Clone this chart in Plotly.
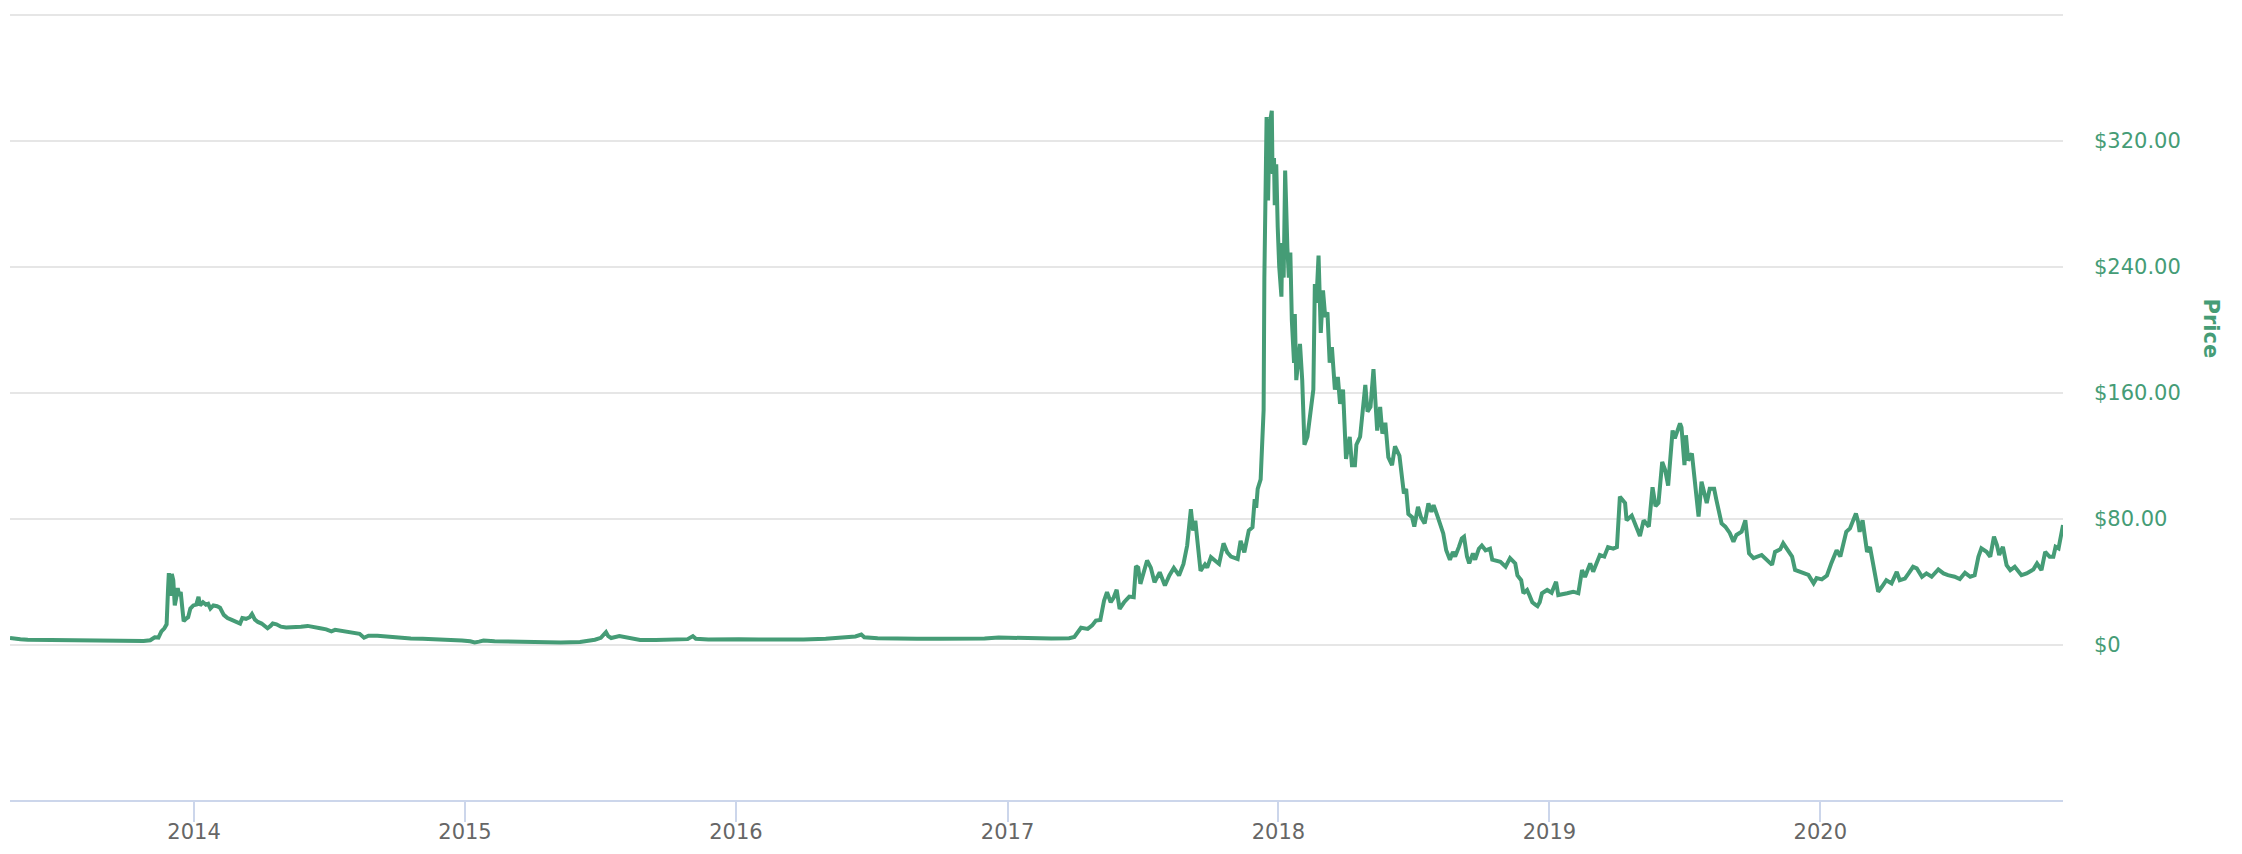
import plotly.graph_objects as go

# Litecoin price (USD)
dates_2013 = ["2013-04-28", "2013-05-05", "2013-05-12", "2013-05-22", "2013-06-05", "2013-06-18",
              "2013-06-25", "2013-07-15", "2013-08-01", "2013-08-20", "2013-09-10", "2013-09-28",
              "2013-10-10", "2013-10-25", "2013-11-03", "2013-11-09", "2013-11-14", "2013-11-18",
              "2013-11-22", "2013-11-25", "2013-11-27", "2013-11-28", "2013-11-30", "2013-12-02",
              "2013-12-04", "2013-12-06", "2013-12-08", "2013-12-10", "2013-12-12", "2013-12-14",
              "2013-12-16", "2013-12-18", "2013-12-21", "2013-12-24", "2013-12-27", "2013-12-31"]
prices_2013 = [4.3, 3.6, 3.5, 3.2, 3.1, 3.0, 2.9, 2.9, 3.0, 2.9, 2.8, 2.7,
               2.6, 2.4, 2.9, 4.8, 4.6, 8.5, 10.5, 13.0, 36.0, 45.5, 31.0, 45.0,
               41.0, 25.0, 30.0, 36.0, 31.0, 33.5, 24.0, 15.0, 16.5, 17.5, 23.0, 25.0]

dates_2014 = ["2014-01-04", "2014-01-07", "2014-01-09", "2014-01-13", "2014-01-17", "2014-01-20",
              "2014-01-23", "2014-01-27", "2014-02-01", "2014-02-05", "2014-02-10", "2014-02-15",
              "2014-02-20", "2014-02-25", "2014-03-01", "2014-03-04", "2014-03-07", "2014-03-12",
              "2014-03-17", "2014-03-20", "2014-03-24", "2014-03-28", "2014-04-02", "2014-04-07",
              "2014-04-10", "2014-04-14", "2014-04-17", "2014-04-22", "2014-04-28", "2014-05-05",
              "2014-05-15", "2014-05-25", "2014-06-03", "2014-06-12", "2014-06-20", "2014-06-28",
              "2014-07-05", "2014-07-10", "2014-07-18", "2014-07-27", "2014-08-05", "2014-08-12",
              "2014-08-18", "2014-08-24", "2014-09-05", "2014-09-18", "2014-10-01", "2014-10-20",
              "2014-11-05", "2014-11-25", "2014-12-10", "2014-12-28"]
prices_2014 = [25.5, 30.5, 25.0, 27.0, 25.5, 26.0, 23.0, 25.0, 24.5, 23.5, 19.0, 17.0,
               16.0, 15.0, 14.5, 13.5, 17.0, 16.5, 17.5, 19.5, 16.0, 14.5, 13.5, 11.5,
               10.5, 12.0, 13.5, 13.0, 11.5, 11.0, 11.0, 11.5, 12.0, 11.5, 10.5, 9.8,
               8.5, 9.5, 9.0, 8.0, 8.0, 7.0, 4.5, 5.8, 5.8, 5.2, 4.5, 4.0,
               3.8, 3.6, 3.2, 2.8]

dates_2015 = ["2015-01-08", "2015-01-14", "2015-01-20", "2015-01-26", "2015-02-10", "2015-02-25",
              "2015-03-12", "2015-04-15", "2015-05-10", "2015-06-05", "2015-06-15", "2015-06-25",
              "2015-07-03", "2015-07-08", "2015-07-10", "2015-07-13", "2015-07-17", "2015-07-28",
              "2015-08-10", "2015-08-25", "2015-09-15", "2015-10-10", "2015-10-28", "2015-11-04",
              "2015-11-08", "2015-11-25", "2015-12-15"]
prices_2015 = [2.2, 1.5, 2.0, 2.7, 2.3, 2.2, 2.0, 1.5, 1.5, 1.8, 2.3, 3.2,
               4.4, 6.5, 8.0, 5.5, 4.3, 5.5, 4.5, 3.0, 3.0, 3.1, 3.6, 5.5,
               3.8, 3.4, 3.6]

dates_2016 = ["2016-01-05", "2016-02-01", "2016-03-01", "2016-04-01", "2016-05-01", "2016-05-25",
              "2016-06-10", "2016-06-18", "2016-06-22", "2016-07-10", "2016-08-01", "2016-09-01",
              "2016-10-01", "2016-11-01", "2016-12-01", "2016-12-20"]
prices_2016 = [3.6, 3.3, 3.2, 3.3, 3.8, 4.5, 5.3, 6.5, 4.8, 4.2, 3.9, 3.9,
               3.9, 3.9, 4.0, 4.6]

dates_2017 = ["2017-01-01", "2017-01-05", "2017-02-01", "2017-03-01", "2017-03-25", "2017-04-01",
              "2017-04-10", "2017-04-19", "2017-04-25", "2017-04-30", "2017-05-06", "2017-05-11",
              "2017-05-15", "2017-05-20", "2017-05-24", "2017-05-28", "2017-06-01", "2017-06-07",
              "2017-06-14", "2017-06-20", "2017-06-23", "2017-06-26", "2017-06-29", "2017-07-08",
              "2017-07-13", "2017-07-18", "2017-07-25", "2017-08-01", "2017-08-07", "2017-08-13",
              "2017-08-20", "2017-08-26", "2017-08-31", "2017-09-05", "2017-09-08", "2017-09-11",
              "2017-09-14", "2017-09-18", "2017-09-24", "2017-09-27", "2017-10-02", "2017-10-08",
              "2017-10-13", "2017-10-19", "2017-10-24", "2017-10-29", "2017-11-07", "2017-11-11",
              "2017-11-16", "2017-11-22", "2017-11-27", "2017-11-30", "2017-12-02", "2017-12-04",
              "2017-12-08", "2017-12-12", "2017-12-13", "2017-12-16", "2017-12-18", "2017-12-20",
              "2017-12-23", "2017-12-24", "2017-12-26", "2017-12-27", "2017-12-29", "2017-12-31"]
prices_2017 = [4.5, 4.2, 3.9, 4.0, 4.2, 5.0, 10.8, 10.1, 12.3, 15.4, 15.8, 28.0,
               33.4, 27.0, 30.0, 34.9, 22.8, 27.0, 30.6, 30.2, 50.0, 49.0, 38.7, 53.5,
               49.0, 39.7, 46.0, 37.6, 44.0, 48.8, 44.0, 51.3, 63.0, 86.0, 72.5, 78.8,
               65.0, 47.0, 51.0, 49.0, 55.6, 53.5, 51.3, 64.4, 58.7, 56.0, 54.5, 66.0,
               58.7, 72.5, 74.6, 92.5, 87.0, 99.0, 105.0, 149.0, 233.0, 335.0, 282.0, 330.0,
               339.0, 299.0, 309.0, 279.0, 305.0, 265.0]

dates_2018 = ["2018-01-02", "2018-01-05", "2018-01-06", "2018-01-08", "2018-01-10", "2018-01-13",
              "2018-01-15", "2018-01-17", "2018-01-19", "2018-01-22", "2018-01-23", "2018-01-25",
              "2018-01-30", "2018-02-02", "2018-02-05", "2018-02-09", "2018-02-13", "2018-02-17",
              "2018-02-19", "2018-02-21", "2018-02-24", "2018-02-27", "2018-03-02", "2018-03-05",
              "2018-03-08", "2018-03-11", "2018-03-14", "2018-03-18", "2018-03-22", "2018-03-25",
              "2018-03-29", "2018-04-02", "2018-04-07", "2018-04-10", "2018-04-14", "2018-04-16",
              "2018-04-21", "2018-04-25", "2018-04-28", "2018-05-01", "2018-05-05", "2018-05-09",
              "2018-05-14", "2018-05-18", "2018-05-21", "2018-05-25", "2018-05-29", "2018-06-03",
              "2018-06-07", "2018-06-13", "2018-06-16", "2018-06-19", "2018-06-22", "2018-06-25",
              "2018-06-30", "2018-07-03", "2018-07-08", "2018-07-12", "2018-07-17", "2018-07-22",
              "2018-07-26", "2018-07-29", "2018-08-03", "2018-08-07", "2018-08-11", "2018-08-15",
              "2018-08-20", "2018-08-24", "2018-08-27", "2018-09-01", "2018-09-05", "2018-09-08",
              "2018-09-12", "2018-09-15", "2018-09-20", "2018-09-23", "2018-09-28", "2018-10-02",
              "2018-10-07", "2018-10-13", "2018-10-16", "2018-10-27", "2018-11-03", "2018-11-09",
              "2018-11-16", "2018-11-19", "2018-11-24", "2018-11-27", "2018-12-02", "2018-12-05",
              "2018-12-09", "2018-12-13", "2018-12-16", "2018-12-19", "2018-12-22", "2018-12-29"]
prices_2018 = [240, 221, 255, 233, 301, 252, 233, 249, 206, 179, 210, 168,
               191, 168, 127, 132, 149, 162, 229, 217, 247, 198, 225, 208,
               211, 179, 189, 162, 170, 153, 162, 118, 132, 114, 114, 127,
               132, 149, 165, 148, 151, 175, 136, 151, 134, 141, 119, 114,
               126, 120, 107, 96, 99, 83, 81, 75, 87.6, 81, 77, 89.7,
               84.4, 88.7, 82, 76, 70.7, 60, 54, 59, 56, 62, 67.5, 68.6,
               56, 51.7, 58, 54, 61, 63, 60, 61, 54, 52.7, 49.6, 55,
               51.7, 44, 41, 32.7, 34.8, 31.6, 27, 25.5, 24.5, 27, 32.7, 34.8]

dates_2019 = ["2019-01-04", "2019-01-10", "2019-01-13", "2019-01-25", "2019-02-02", "2019-02-09",
              "2019-02-14", "2019-02-18", "2019-02-25", "2019-03-01", "2019-03-10", "2019-03-16",
              "2019-03-21", "2019-03-28", "2019-04-02", "2019-04-06", "2019-04-13", "2019-04-15",
              "2019-04-22", "2019-04-28", "2019-05-03", "2019-05-08", "2019-05-15", "2019-05-18",
              "2019-05-20", "2019-05-24", "2019-05-28", "2019-06-02", "2019-06-06", "2019-06-10",
              "2019-06-13", "2019-06-16", "2019-06-19", "2019-06-26", "2019-06-28", "2019-07-02",
              "2019-07-04", "2019-07-07", "2019-07-12", "2019-07-16", "2019-07-21", "2019-07-25",
              "2019-08-01", "2019-08-05", "2019-08-11", "2019-08-14", "2019-08-21", "2019-08-26",
              "2019-09-01", "2019-09-06", "2019-09-10", "2019-09-17", "2019-09-22", "2019-09-27",
              "2019-10-03", "2019-10-14", "2019-10-21", "2019-10-28", "2019-11-01", "2019-11-08",
              "2019-11-12", "2019-11-19", "2019-11-24", "2019-11-28", "2019-12-05", "2019-12-09",
              "2019-12-16", "2019-12-23", "2019-12-27"]
prices_2019 = [33, 40, 31.6, 32.7, 33.7, 32.7, 47.5, 43, 51.7, 46.4, 57, 56,
               62, 61, 62, 94, 90, 79, 82, 75, 69, 79, 75, 90,
               100, 88, 90, 116, 111, 101, 118, 136, 131, 140.5, 138, 114,
               133, 117, 121.5, 103.5, 81.4, 103.5, 90, 99, 99, 92, 77, 75,
               71, 65.5, 69.7, 71.8, 79, 58, 55, 57, 54, 50.7, 59, 60.6,
               64.4, 60, 56, 47.5, 46.5, 45.4, 44.4, 39, 42.3]

dates_2020 = ["2020-01-03", "2020-01-10", "2020-01-16", "2020-01-23", "2020-01-28", "2020-02-05",
              "2020-02-10", "2020-02-14", "2020-02-18", "2020-02-21", "2020-02-23", "2020-02-27",
              "2020-03-01", "2020-03-04", "2020-03-08", "2020-03-12", "2020-03-16", "2020-03-19",
              "2020-03-24", "2020-03-30", "2020-04-06", "2020-04-13", "2020-04-17", "2020-04-24",
              "2020-04-29", "2020-05-05", "2020-05-10", "2020-05-17", "2020-05-23", "2020-05-30",
              "2020-06-08", "2020-06-15", "2020-06-21", "2020-06-30", "2020-07-07", "2020-07-14",
              "2020-07-21", "2020-07-27", "2020-08-01", "2020-08-05", "2020-08-12", "2020-08-17",
              "2020-08-22", "2020-08-26", "2020-08-29", "2020-09-03", "2020-09-08", "2020-09-13",
              "2020-09-19", "2020-09-28", "2020-10-05", "2020-10-14", "2020-10-19", "2020-10-25",
              "2020-10-30", "2020-11-05", "2020-11-10", "2020-11-13", "2020-11-17", "2020-11-19",
              "2020-11-22", "2020-11-23"]
prices_2020 = [41.5, 44, 52, 60, 56, 71.7, 73.9, 78, 83.4, 78, 71.7, 79,
               68.6, 59, 62, 50.6, 41, 33.7, 36.8, 41, 39, 46.3, 41, 42,
               45.3, 49.5, 48.5, 43.2, 45.3, 43.2, 47.8, 45.3, 44.2, 43.2, 41.7, 45.7,
               43.2, 44.2, 55.9, 61.2, 59, 55.9, 68.6, 63.3, 57, 62.2, 50.6, 47.4,
               49.5, 44.2, 45.3, 47.8, 51.6, 47.4, 59, 55.9, 55.9, 62.2, 61.2, 66.5,
               73.9, 76]

dates = dates_2013 + dates_2014 + dates_2015 + dates_2016 + dates_2017 + dates_2018 + dates_2019 + dates_2020
prices = prices_2013 + prices_2014 + prices_2015 + prices_2016 + prices_2017 + prices_2018 + prices_2019 + prices_2020

year_ticks = ["2014-01-01", "2015-01-01", "2016-01-01", "2017-01-01", "2018-01-01", "2019-01-01", "2020-01-01"]
year_labels = ["2014", "2015", "2016", "2017", "2018", "2019", "2020"]
price_ticks = [0, 80, 160, 240, 320, 400]
price_labels = ["$0", "$80.00", "$160.00", "$240.00", "$320.00", ""]

green = "#459c76"

fig = go.Figure()
fig.add_trace(go.Scatter(
    x=dates, y=prices, mode="lines",
    line=dict(color=green, width=4),
    hoverinfo="x+y",
))

fig.update_layout(
    width=2242, height=854,
    margin=dict(l=10, r=179, t=13, b=54),
    paper_bgcolor="white", plot_bgcolor="white",
    showlegend=False,
    font=dict(family="DejaVu Sans", size=21, color="#666666"),
    xaxis=dict(
        range=["2013-04-28", "2020-11-23"],
        tickvals=year_ticks, ticktext=year_labels,
        showgrid=False, zeroline=False, automargin=False,
        showline=True, linecolor="#ccd6eb", linewidth=2,
        ticks="outside", ticklen=20, tickwidth=2, tickcolor="#ccd6eb",
        ticklabelstandoff=-8,
        tickfont=dict(color="#666666", size=21),
    ),
    yaxis=dict(
        side="right",
        range=[-98.5, 401],
        tickvals=price_ticks, ticktext=price_labels,
        showgrid=True, gridcolor="#e6e6e6", gridwidth=2,
        zeroline=False, showline=False, ticks="", automargin=False,
        ticklabelstandoff=30,
        tickfont=dict(color=green, size=21),
    ),
    annotations=[dict(
        text="<b>Price</b>", textangle=90,
        xref="paper", yref="paper", x=1.0721, y=0.599,
        xanchor="center", yanchor="middle", showarrow=False,
        font=dict(color=green, size=21, family="DejaVu Sans"),
    )],
)

# drop the browser's default 8px body margin so the figure sits at the window origin
fig.write_html("out.html", config={"displayModeBar": False},
               post_script="document.body.style.margin='0';")
